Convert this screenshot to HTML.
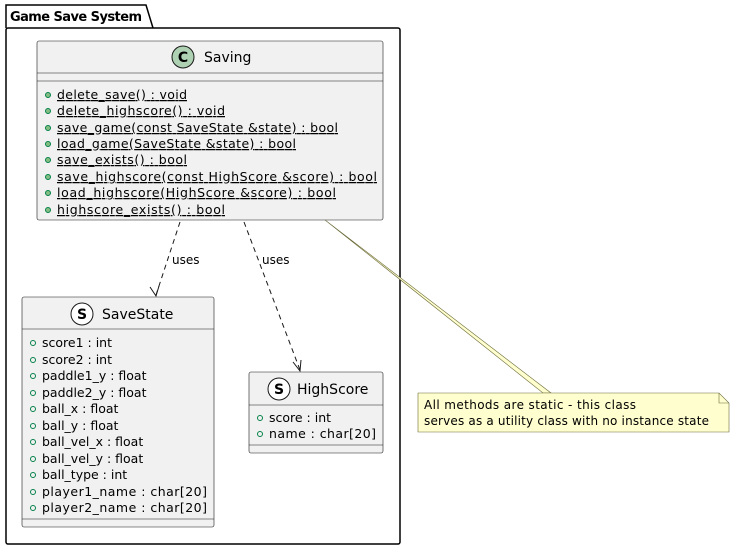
<!DOCTYPE html>
<html><head><style>
body{margin:0;background:#fff;}
svg text{font-family:"DejaVu Sans","Liberation Sans",sans-serif;}
</style></head><body>
<svg width="734" height="549" xmlns="http://www.w3.org/2000/svg">
<!-- package -->
<path d="M6,28 L6,5 L146,5 L153,28" fill="none" stroke="#000" stroke-width="1.5"/>
<rect x="6" y="28" width="394" height="516" rx="2" fill="none" stroke="#000" stroke-width="1.5"/>
<text x="10" y="21" font-size="13" font-weight="bold" textLength="132">Game Save System</text>

<!-- Saving -->
<rect x="37" y="41" width="346" height="179" rx="2" fill="#f1f1f1" stroke="#181818" stroke-width="0.6"/>
<line x1="37" y1="73" x2="383" y2="73" stroke="#181818" stroke-width="0.6"/>
<line x1="37" y1="81" x2="383" y2="81" stroke="#181818" stroke-width="0.6"/>
<circle cx="183" cy="57" r="11" fill="#add1b2" stroke="#181818" stroke-width="1"/>
<text x="183" y="62" font-size="14" font-weight="bold" text-anchor="middle">C</text>
<text x="204" y="62" font-size="14">Saving</text>
<g font-size="12.5" fill="#000" text-decoration="underline">
<text x="57" y="99" textLength="130">delete_save() : void</text>
<text x="57" y="115" textLength="168">delete_highscore() : void</text>
<text x="57" y="132" textLength="281">save_game(const SaveState &amp;state) : bool</text>
<text x="57" y="148" textLength="239">load_game(SaveState &amp;state) : bool</text>
<text x="57" y="164" textLength="130">save_exists() : bool</text>
<text x="57" y="181" textLength="320">save_highscore(const HighScore &amp;score) : bool</text>
<text x="57" y="197" textLength="279">load_highscore(HighScore &amp;score) : bool</text>
<text x="57" y="214" textLength="168">highscore_exists() : bool</text>
</g>
<g fill="#84be84" stroke="#038048" stroke-width="1">
<circle cx="48" cy="95" r="2.5"/><circle cx="48" cy="111" r="2.5"/><circle cx="48" cy="128" r="2.5"/><circle cx="48" cy="144" r="2.5"/>
<circle cx="48" cy="160" r="2.5"/><circle cx="48" cy="177" r="2.5"/><circle cx="48" cy="193" r="2.5"/><circle cx="48" cy="210" r="2.5"/>
</g>

<!-- arrows -->
<line x1="180" y1="222" x2="156" y2="295" stroke="#181818" stroke-dasharray="5,4"/>
<path d="M150,287 L156,296 L159,286" fill="none" stroke="#181818"/>
<text x="172" y="264" font-size="12">uses</text>
<line x1="244" y1="222" x2="300" y2="370" stroke="#181818" stroke-dasharray="5,4"/>
<path d="M293,362 L300,371 L301,360" fill="none" stroke="#181818"/>
<text x="262" y="264" font-size="12">uses</text>

<!-- note connector -->
<path d="M325,220 L543,393 L551,393 Z" fill="#fefece" stroke="#6b6b3a" stroke-width="0.6"/>

<!-- SaveState -->
<rect x="22" y="297" width="192" height="230" rx="2" fill="#f1f1f1" stroke="#181818" stroke-width="0.6"/>
<line x1="22" y1="329" x2="214" y2="329" stroke="#181818" stroke-width="0.6"/>
<line x1="22" y1="519" x2="214" y2="519" stroke="#181818" stroke-width="0.6"/>
<circle cx="82" cy="314" r="11" fill="#fff" stroke="#181818" stroke-width="1"/>
<text x="82" y="319" font-size="14" font-weight="bold" text-anchor="middle">S</text>
<text x="102" y="319" font-size="14">SaveState</text>
<g font-size="12.5">
<text x="42" y="347">score1 : int</text>
<text x="42" y="364">score2 : int</text>
<text x="42" y="380">paddle1_y : float</text>
<text x="42" y="397">paddle2_y : float</text>
<text x="42" y="413">ball_x : float</text>
<text x="42" y="430">ball_y : float</text>
<text x="42" y="446">ball_vel_x : float</text>
<text x="42" y="463">ball_vel_y : float</text>
<text x="42" y="479">ball_type : int</text>
<text x="42" y="496" textLength="165">player1_name : char[20]</text>
<text x="42" y="512" textLength="165">player2_name : char[20]</text>
</g>
<g fill="none" stroke="#038048" stroke-width="1">
<circle cx="33" cy="343" r="2.5"/><circle cx="33" cy="360" r="2.5"/><circle cx="33" cy="376" r="2.5"/><circle cx="33" cy="393" r="2.5"/>
<circle cx="33" cy="409" r="2.5"/><circle cx="33" cy="426" r="2.5"/><circle cx="33" cy="442" r="2.5"/><circle cx="33" cy="459" r="2.5"/>
<circle cx="33" cy="475" r="2.5"/><circle cx="33" cy="492" r="2.5"/><circle cx="33" cy="508" r="2.5"/>
</g>

<!-- HighScore -->
<rect x="249" y="372" width="134" height="81" rx="2" fill="#f1f1f1" stroke="#181818" stroke-width="0.6"/>
<line x1="249" y1="405" x2="383" y2="405" stroke="#181818" stroke-width="0.6"/>
<line x1="249" y1="445" x2="383" y2="445" stroke="#181818" stroke-width="0.6"/>
<circle cx="279" cy="389" r="11" fill="#fff" stroke="#181818" stroke-width="1"/>
<text x="279" y="394" font-size="14" font-weight="bold" text-anchor="middle">S</text>
<text x="297" y="394" font-size="14">HighScore</text>
<g font-size="12.5">
<text x="269" y="422">score : int</text>
<text x="269" y="438" textLength="107">name : char[20]</text>
</g>
<g fill="none" stroke="#038048" stroke-width="1">
<circle cx="260" cy="418" r="2.5"/><circle cx="260" cy="434" r="2.5"/>
</g>

<!-- note -->
<path d="M418,393 L719,393 L729,403 L729,432 L418,432 Z" fill="#fefece" stroke="#6b6b3a" stroke-width="0.6"/>
<path d="M719,393 L719,403 L729,403" fill="none" stroke="#6b6b3a" stroke-width="0.6"/>
<text x="424" y="409" font-size="12" textLength="212">All methods are static - this class</text>
<text x="424" y="425" font-size="12" textLength="285">serves as a utility class with no instance state</text>
</svg>
</body></html>
